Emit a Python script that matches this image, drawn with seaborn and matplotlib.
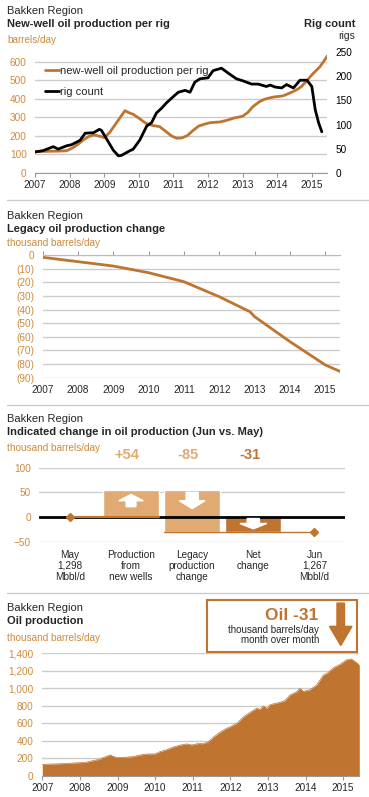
import matplotlib
matplotlib.use("Agg")
from matplotlib import pyplot as plt
from matplotlib.patches import Rectangle, Polygon
from matplotlib.ticker import FuncFormatter
import seaborn as sns

# ---- data ----
perrig_dates = [2007.0, 2007.25, 2007.5, 2007.75, 2007.92, 2008.1, 2008.25, 2008.4, 2008.55, 2008.7,
                2008.85, 2009.0, 2009.15, 2009.3, 2009.45, 2009.6, 2009.7, 2009.84, 2010.0, 2010.2,
                2010.4, 2010.6, 2010.8, 2010.95, 2011.1, 2011.25, 2011.4, 2011.55, 2011.73, 2011.9,
                2012.06, 2012.35, 2012.55, 2012.73, 2013.0, 2013.15, 2013.3, 2013.5, 2013.64, 2013.88,
                2014.17, 2014.3, 2014.46, 2014.6, 2014.7, 2014.85, 2015.0, 2015.24, 2015.45]
perrig_values = [113, 115, 116, 117, 119, 135, 155, 177, 195, 204,
                 198, 190, 215, 255, 295, 335, 325, 315, 295, 267,
                 255, 249, 220, 198, 186, 188, 200, 225, 252, 262,
                 270, 274, 283, 294, 305, 325, 357, 385, 397, 408,
                 415, 425, 438, 452, 465, 495, 528, 573, 630]

rig_dates = [2007.0, 2007.24, 2007.53, 2007.67, 2007.92, 2008.05, 2008.3, 2008.45, 2008.69, 2008.86,
             2008.92, 2009.07, 2009.26, 2009.41, 2009.5, 2009.7, 2009.84, 2010.03, 2010.23, 2010.37,
             2010.51, 2010.66, 2010.8, 2010.95, 2011.14, 2011.34, 2011.48, 2011.62, 2011.77, 2012.0,
             2012.15, 2012.39, 2012.58, 2012.82, 2013.0, 2013.26, 2013.45, 2013.69, 2013.8, 2013.93,
             2014.13, 2014.27, 2014.47, 2014.66, 2014.86, 2015.0, 2015.1, 2015.2, 2015.29]
rig_count = [43, 46, 54, 49, 56, 58, 67, 82, 83, 90,
             88, 70, 47, 35, 36, 44, 49, 68, 97, 104,
             124, 134, 145, 155, 167, 171, 167, 188, 195, 197,
             212, 217, 207, 195, 191, 184, 184, 179, 182, 178,
             176, 183, 176, 192, 192, 179, 131, 103, 85]

legacy_dates = [2007.0, 2008.0, 2009.0, 2010.0, 2011.0, 2012.0, 2012.87, 2013.0, 2014.0, 2015.0, 2015.43]
legacy_values = [-1.7, -4.9, -8.1, -13.0, -19.6, -30.6, -41.6, -45.2, -63.5, -80.6, -85.5]

wf_labels = ["May\n1,298\nMbbl/d", "Production\nfrom\nnew wells", "Legacy\nproduction\nchange",
             "Net\nchange", "Jun\n1,267\nMbbl/d"]
new_wells = 54
legacy_change = -85
net_change = -31

prod_dates = [2007.0, 2007.5, 2008.0, 2008.15, 2008.27, 2008.4, 2008.53, 2008.65, 2008.8, 2008.9,
              2008.98, 2009.2, 2009.42, 2009.6, 2009.78, 2010.0, 2010.13, 2010.3, 2010.48, 2010.66,
              2010.84, 2010.97, 2011.15, 2011.28, 2011.42, 2011.55, 2011.73, 2011.88, 2012.0, 2012.17,
              2012.35, 2012.52, 2012.7, 2012.79, 2012.88, 2012.97, 2013.06, 2013.32, 2013.45, 2013.59,
              2013.76, 2013.85, 2013.94, 2014.12, 2014.3, 2014.47, 2014.6, 2014.74, 2014.92, 2015.09,
              2015.22, 2015.33, 2015.43]
prod_values = [133, 140, 152, 155, 168, 180, 192, 215, 240, 222,
               210, 214, 221, 240, 251, 252, 278, 300, 330, 352,
               366, 354, 370, 368, 392, 445, 500, 540, 562, 600,
               675, 725, 773, 760, 800, 770, 815, 840, 860, 925,
               960, 1000, 965, 985, 1040, 1150, 1180, 1235, 1275, 1325,
               1335, 1300, 1267]

years = list(range(2007, 2016))

BROWN = "#bf7430"
ORANGE = "#d08a3a"
TAN = "#e1aa72"
GRID = "#cccccc"

sns.set_style("white")
plt.rcParams['font.family'] = ['Liberation Sans', 'DejaVu Sans']

W, H = 369, 797
fig = plt.figure(figsize=(W / 100, H / 100), dpi=100)


def rect(x0, y0, x1, y1):
    return [x0 / W, 1 - y1 / H, (x1 - x0) / W, (y1 - y0) / H]


def ftext(x, y, s, **kw):
    fig.text(x / W, 1 - y / H, s, va='center', **kw)


def header(y, title):
    ftext(7, y, "Bakken Region", fontsize=8)
    ftext(7, y + 13, title, fontsize=8, fontweight='bold')


def clean(ax):
    for s in ax.spines.values():
        s.set_visible(False)
    ax.set_xlabel("")
    ax.set_ylabel("")


# separators
for yy in [200, 405, 593]:
    fig.add_artist(plt.Line2D([7 / W, 1], [1 - yy / H] * 2, color=GRID, lw=1))

# ---- panel 1 ----
header(11, "New-well oil production per rig")
ftext(7, 40, "barrels/day", fontsize=7.2, color=ORANGE)
ftext(355, 24, "Rig count", fontsize=8, fontweight='bold', ha='right')
ftext(355, 36, "rigs", fontsize=7.5, ha='right')

ax1 = fig.add_axes(rect(35, 52.3, 327, 172.7))
sns.lineplot(x=perrig_dates, y=perrig_values, ax=ax1, color=BROWN, lw=2,
             label="new-well oil production per rig")
ax1r = ax1.twinx()
sns.lineplot(x=rig_dates, y=rig_count, ax=ax1r, color="black", lw=2, label="rig count")
h1, l1 = ax1.get_legend_handles_labels()
h2, l2 = ax1r.get_legend_handles_labels()
ax1.get_legend().remove()
ax1r.get_legend().remove()
ax1r.legend(h1 + h2, l1 + l2, loc='upper left', bbox_to_anchor=(0.034, 0.885), frameon=False,
            fontsize=8, borderpad=0, borderaxespad=0, handlelength=1.3, handletextpad=0.1,
            labelspacing=0.95)
ax1.set_xlim(2007, 2015.44)
ax1.set_ylim(0, 650)
ax1r.set_ylim(0, 250)
ax1.set_yticks(range(0, 601, 100))
ax1r.set_yticks(range(0, 251, 50))
ax1.set_xticks(years)
ax1.yaxis.grid(True, color=GRID, lw=1)
ax1.set_axisbelow(True)
clean(ax1)
clean(ax1r)
ax1.spines['bottom'].set_visible(True)
ax1.spines['bottom'].set_color("#999999")
ax1.tick_params(axis='y', length=0, pad=6, labelsize=7.2, labelcolor=ORANGE)
ax1r.tick_params(axis='y', length=0, pad=6, labelsize=7.2, labelcolor="black")
ax1.tick_params(axis='x', bottom=True, length=3, color="#999999", pad=2, labelsize=7.2)

# ---- panel 2 ----
header(216, "Legacy oil production change")
ftext(7, 243, "thousand barrels/day", fontsize=7.2, color=ORANGE)
ax2 = fig.add_axes(rect(42.7, 255, 340, 377.7))
sns.lineplot(x=legacy_dates, y=legacy_values, ax=ax2, color=BROWN, lw=2)
ax2.set_xlim(2007, 2015.42)
ax2.set_ylim(-90, 0)
ax2.set_yticks(range(-90, 1, 10))
ax2.yaxis.set_major_formatter(FuncFormatter(lambda v, p: "0" if v == 0 else "(%d)" % abs(v)))
ax2.set_xticks(years)
ax2.yaxis.grid(True, color=GRID, lw=1)
ax2.set_axisbelow(True)
clean(ax2)
ax2.spines['top'].set_visible(True)
ax2.spines['top'].set_color("#bbbbbb")
ax2.tick_params(axis='y', length=0, pad=6, labelsize=7.2, labelcolor=ORANGE)
ax2.tick_params(axis='x', bottom=False, top=True, labelbottom=True, labeltop=False,
                length=3, color="#999999", pad=2, labelsize=7.2)

# ---- panel 3 ----
header(419, "Indicated change in oil production (Jun vs. May)")
ftext(7, 448, "thousand barrels/day", fontsize=7.2, color=ORANGE)
ax3 = fig.add_axes(rect(39.3, 467.7, 345, 541.7))
xs = list(range(len(wf_labels)))
bw = 0.91
ax3.bar(xs[1], new_wells, bottom=0, width=bw, color=TAN, zorder=2)
ax3.bar(xs[2], legacy_change, bottom=new_wells, width=bw, color=TAN, zorder=2)
ax3.bar(xs[3], net_change, bottom=0, width=bw, color=BROWN, zorder=2)
ax3.axhline(0, color="black", lw=2, zorder=3)
sns.lineplot(x=[xs[0], xs[1] + bw / 2], y=[0, 0], ax=ax3, color=BROWN, lw=1.5, zorder=4)
sns.lineplot(x=[xs[2] - bw / 2, xs[4]], y=[net_change, net_change], ax=ax3, color=BROWN, lw=1,
             zorder=4)
ax3.plot([xs[0], xs[4]], [0, net_change], ls='none', marker='D', ms=4, color=BROWN, zorder=5)


def block_arrow(ax, xc, y_tail, y_base, y_tip, shaft, head, **kw):
    pts = [(xc - shaft, y_tail), (xc + shaft, y_tail), (xc + shaft, y_base), (xc + head, y_base),
           (xc, y_tip), (xc - head, y_base), (xc - shaft, y_base)]
    ax.add_patch(Polygon(pts, closed=True, **kw))


block_arrow(ax3, xs[1], 21, 33, 46, 0.08, 0.2, color="white", zorder=4)
block_arrow(ax3, xs[2], 50, 33, 17, 0.1, 0.21, color="white", zorder=4)
block_arrow(ax3, xs[3], -3, -13, -24, 0.1, 0.22, color="white", zorder=4)

for xi, val, col in [(xs[1], new_wells, TAN), (xs[2], legacy_change, TAN), (xs[3], net_change, BROWN)]:
    ax3.text(xi - 0.06, 126, "%+d" % val, ha='center', va='center', fontsize=10.5,
             fontweight='bold', color=col, clip_on=False)

ax3.set_xlim(-0.5, 4.5)
ax3.set_ylim(-50, 100)
ax3.set_yticks([-50, 0, 50, 100])
ax3.set_xticks(xs)
ax3.set_xticklabels(wf_labels, linespacing=1.1)
ax3.yaxis.grid(True, color=GRID, lw=1)
ax3.set_axisbelow(True)
clean(ax3)
ax3.tick_params(axis='y', length=0, pad=6, labelsize=7.2, labelcolor=ORANGE)
ax3.tick_params(axis='x', length=0, pad=6, labelsize=7.2)

# ---- panel 4 ----
header(608, "Oil production")
ftext(7, 638, "thousand barrels/day", fontsize=7.2, color=ORANGE)
ax4 = fig.add_axes(rect(42.3, 653.3, 359.3, 776))
sns.lineplot(x=prod_dates, y=prod_values, ax=ax4, color=BROWN, lw=0.5)
ax4.fill_between(prod_dates, prod_values, 0, color=BROWN, lw=0, zorder=2)
ax4.set_xlim(2007, 2015.43)
ax4.set_ylim(0, 1400)
ax4.set_yticks(range(0, 1401, 200))
ax4.yaxis.set_major_formatter(FuncFormatter(lambda v, p: "{:,.0f}".format(v)))
ax4.set_xticks(years)
ax4.yaxis.grid(True, color=GRID, lw=1)
ax4.set_axisbelow(True)
clean(ax4)
ax4.spines['bottom'].set_visible(True)
ax4.spines['bottom'].set_color("#999999")
ax4.tick_params(axis='y', length=0, pad=6.5, labelsize=7.2, labelcolor=ORANGE)
ax4.tick_params(axis='x', bottom=True, length=3, color="#999999", pad=2, labelsize=7.2)

# callout box
axc = fig.add_axes(rect(206.7, 600, 357.3, 651.7))
axc.set_xlim(0, 1)
axc.set_ylim(0, 1)
axc.axis('off')
axc.add_patch(Rectangle((0, 0), 1, 1, fill=False, edgecolor=BROWN, lw=1.5, clip_on=False))
axc.text(0.74, 0.70, "Oil -31", ha='right', va='center', fontsize=12.5, fontweight='bold', color=BROWN)
axc.text(0.748, 0.42, "thousand barrels/day", ha='right', va='center', fontsize=7)
axc.text(0.748, 0.22, "month over month", ha='right', va='center', fontsize=7)
block_arrow(axc, 0.89, 0.94, 0.49, 0.12, 0.025, 0.075, color=BROWN)

fig.savefig("out.png", dpi=100)
